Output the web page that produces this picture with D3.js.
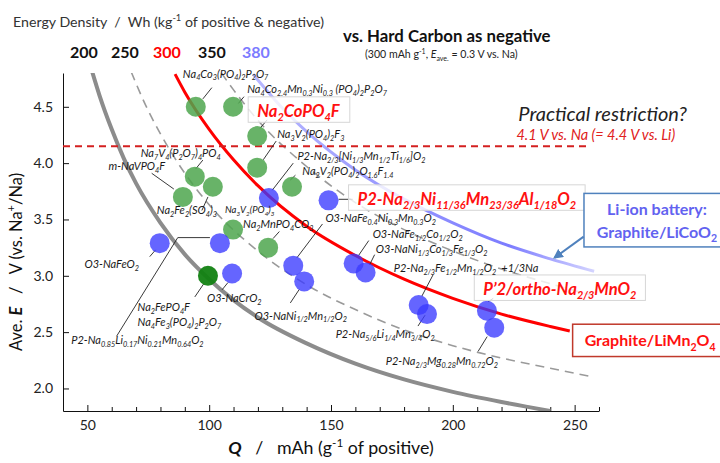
<!DOCTYPE html>
<meta charset="utf-8">
<title>Energy density map</title>
<script src="https://d3js.org/d3.v7.min.js"></script>
<body style="margin:0;background:#fff">
<div id="chart"></div>
</body>
<style>
  svg text { white-space: pre; }
</style>
<script>

    // iso energy lines (Wh/kg of positive & negative)
    var energyLevels = [200, 250, 300, 350, 380];
    var iso200Q = [52, 55, 60, 65, 70, 80, 90, 100, 120, 140, 160, 180, 200, 220, 240];
    var iso200V = [4.81, 4.60, 4.30, 4.04, 3.82, 3.47, 3.19, 2.97, 2.63, 2.40, 2.22, 2.08, 1.97, 1.88, 1.80];
    var iso250Q = [68, 74, 80, 90, 100, 120, 140, 160, 180, 200, 220, 240, 258];
    var iso250V = [4.81, 4.51, 4.26, 3.91, 3.63, 3.22, 2.92, 2.70, 2.52, 2.38, 2.27, 2.18, 2.10];
    var iso300Q = [86, 90, 100, 110, 120, 140, 160, 180, 200, 220, 240, 248];
    var iso300V = [4.79, 4.63, 4.30, 4.03, 3.80, 3.44, 3.18, 2.97, 2.80, 2.66, 2.55, 2.51];
    var iso350Q = [105, 110, 120, 140, 160, 180, 200, 220, 240, 258];
    var iso350V = [4.80, 4.65, 4.38, 3.97, 3.65, 3.41, 3.22, 3.06, 2.93, 2.82];
    var iso380Q = [118, 130, 140, 160, 180, 200, 220, 240, 258];
    var iso380V = [4.79, 4.49, 4.28, 3.94, 3.68, 3.47, 3.29, 3.15, 3.04];

    // polyanion positives (green)
    var greenQ = [94.5, 109.8, 119.7, 119.7, 94.1, 101.5, 89.2, 109.8, 124.2, 134.0];
    var greenV = [4.50, 4.50, 4.24, 3.96, 3.88, 3.79, 3.70, 3.41, 3.25, 3.79];
    // Na2FePO4F / Na4Fe3(PO4)2P2O7 (dark green)
    var darkQ = [99.5];
    var darkV = [3.00];
    // layered oxide positives (blue)
    var blueQ = [79.7, 104.4, 109.4, 124.5, 149.0, 134.5, 139.0, 159.3, 164.2, 186.0, 189.4, 214.0, 217.0];
    var blueV = [3.29, 3.29, 3.02, 3.69, 3.67, 3.09, 2.95, 3.11, 3.03, 2.74, 2.66, 2.69, 2.54];

    var practicalLimit = 4.15;
    var xTicks = [50, 100, 150, 200, 250];
    var yTicks = [2.0, 2.5, 3.0, 3.5, 4.0, 4.5];

    // material labels: text, anchor (Q, V), leader line points
    var notes = [
      {t: "Na_{4}Co_{3}(PO_{4})_{2}P_{2}O_{7}", q: 89.2, v: 4.76, lead: [[101.1, 4.67], [97.4, 4.57]]},
      {t: "Na_{4}Co_{2.4}Mn_{0.3}Ni_{0.3} (PO_{4})_{2}P_{2}O_{7}", q: 115.6, v: 4.625, lead: [[114.3, 4.59], [112.0, 4.53]]},
      {t: "Na_{3}V_{2}(PO_{4})_{2}F_{3}", q: 127.9, v: 4.223, lead: [[127.5, 4.196], [122.2, 4.03]]},
      {t: "P2-Na_{2/3}[Ni_{1/3}Mn_{1/2}Ti_{1/6}]O_{2}", q: 136.2, v: 4.03, lead: [[134.5, 4.0], [125.9, 3.76]]},
      {t: "Na_{2}V_{2}(PO_{4})_{2}O_{1.6}F_{1.4}", q: 138.2, v: 3.895, lead: [[135.4, 3.893], [133.3, 3.85]]},
      {t: "Na_{7}V_{4}(P_{2}O_{7})_{4}PO_{4}", q: 71.9, v: 4.054, lead: [[97.4, 4.027], [94.5, 3.95]]},
      {t: "m-NaVPO_{4}F", q: 58.7, v: 3.9375, lead: [[76.4, 3.91], [85.5, 3.77]]},
      {t: "Na_{2}Fe_{2}(SO_{4})_{3}", q: 78.5, v: 3.545, lead: [[97.0, 3.58], [99.5, 3.70]]},
      {t: "Na_{3}V_{2}(PO_{4})_{3}", q: 106.5, v: 3.554, size: 9.5},
      {t: "Na_{2}MnPO_{4}CO_{3}", q: 113.9, v: 3.42, lead: [[128.8, 3.393], [126.2, 3.33]]},
      {t: "O3-NaFeO_{2}", q: 48.8, v: 3.071, lead: [[75.6, 3.17], [78.0, 3.23]]},
      {t: "P2-Na_{0.85}Li_{0.17}Ni_{0.21}Mn_{0.64}O_{2}", q: 43.4, v: 2.393, lead: [[62.0, 2.464], [87.1, 3.339], [100.3, 3.339]]},
      {t: "Na_{2}FePO_{4}F", q: 70.6, v: 2.6875, lead: [[94.1, 2.8125], [97.8, 2.93]]},
      {t: "Na_{4}Fe_{3}(PO_{4})_{2}P_{2}O_{7}", q: 70.6, v: 2.554},
      {t: "O3-NaCrO_{2}", q: 99.1, v: 2.765, lead: [[105.3, 2.876], [107.7, 2.94]]},
      {t: "O3-NaNi_{1/2}Mn_{1/2}O_{2}", q: 118.6, v: 2.612, lead: [[133.3, 2.759], [137.0, 2.88]]},
      {t: "O3-NaFe_{0.4}Ni_{0.3}Mn_{0.3}O_{2}", q: 147.7, v: 3.475, lead: [[146.5, 3.46], [136.0, 3.16]]},
      {t: "O3-NaFe_{1/2}Co_{1/2}O_{2}", q: 167.1, v: 3.335, lead: [[165.5, 3.3125], [161.3, 3.18]]},
      {t: "O3-NaNi_{1/3}Co_{1/3}Fe_{1/3}O_{2}", q: 168.4, v: 3.2, lead: [[167.9, 3.1875], [165.9, 3.10]]},
      {t: "P2-Na_{2/3}Fe_{1/2}Mn_{1/2}O_{2}  +1/3Na", q: 175.8, v: 3.036, lead: [[191.9, 3.009], [187.3, 2.82]]},
      {t: "P2-Na_{5/6}Li_{1/4}Mn_{3/4}O_{2}", q: 151.9, v: 2.446, lead: [[185.7, 2.554], [188.6, 2.65]]},
      {t: "P2-Na_{2/3}Mg_{0.28}Mn_{0.72}O_{2}", q: 172.5, v: 2.205, lead: [[210.4, 2.33], [214.1, 2.46]]}
    ];
    var bigNotes = [
      {t: "Na_{2}CoPO_{4}F", q: 119.7, v: 4.411, lead: [[123.8, 4.384], [120.9, 4.31]]},
      {t: "P2-Na_{2/3}Ni_{11/36}Mn_{23/36}Al_{1/18}O_{2}", q: 160.9, v: 3.63, lead: [[153.1, 3.679], [158.9, 3.679]]},
      {t: "P\u20192/ortho-Na_{2/3}MnO_{2}", q: 212.5, v: 2.83, lead: [[214.5, 2.77], [216.6, 2.80]]}
    ];

    var margin = {top: 73, right: 121, bottom: 52, left: 63},
      width = 720 - margin.left - margin.right,
      height = 463 - margin.top - margin.bottom;

    var svg = d3.select("#chart")
      .append("svg")
        .attr("width", 720)
        .attr("height", 463)
        .style("font-family", "Lato, 'Open Sans', sans-serif");

    var g = svg.append("g")
        .attr("transform", "translate(" + margin.left + "," + margin.top + ")");

    var x = d3.scaleLinear().domain([40, 260]).range([0, width]);
    var y = d3.scaleLinear().domain([1.8, 4.8]).range([height, 0]);

    // writes text with _{sub}, ^{sup}, ~{italic}, #{bold italic}
    function rich(sel, str, size) {
      var parts = str.split(/([_^~#]\{[^}]*\})/).filter(function(s) { return s.length; });
      var shift = 0;
      parts.forEach(function(p) {
        var target = 0, txt = p, fs = size, style = null, weight = null;
        if (p[0] === "_" && p[1] === "{") { target = size * 0.27; txt = p.slice(2, -1); fs = size * 0.66; }
        else if (p[0] === "^" && p[1] === "{") { target = -size * 0.4; txt = p.slice(2, -1); fs = size * 0.66; }
        else if (p[0] === "~" && p[1] === "{") { txt = p.slice(2, -1); style = "italic"; }
        else if (p[0] === "#" && p[1] === "{") { txt = p.slice(2, -1); style = "italic"; weight = "bold"; }
        var ts = sel.append("tspan").attr("dy", (target - shift).toFixed(2)).attr("font-size", fs).text(txt);
        if (style) ts.attr("font-style", style);
        if (weight) ts.attr("font-weight", weight);
        shift = target;
      });
      return sel;
    }

    // rect behind a text element, padding: left/right, top, bottom
    function boxAround(textSel, padX, padTop, padBottom, stroke, sw, fill) {
      var node = textSel.node();
      var b = node.getBBox();
      var r = document.createElementNS("http://www.w3.org/2000/svg", "rect");
      node.parentNode.insertBefore(r, node);
      d3.select(r)
        .attr("x", b.x - padX).attr("y", b.y - padTop)
        .attr("width", b.width + 2 * padX).attr("height", b.height + padTop + padBottom)
        .attr("fill", fill).attr("stroke", stroke).attr("stroke-width", sw);
    }

    // axes
    g.append("g")
      .attr("transform", "translate(0," + height + ")")
      .call(d3.axisBottom(x).tickValues(xTicks).tickSize(-6).tickSizeOuter(0).tickPadding(9).tickFormat(d3.format("d")));
    g.append("g")
      .attr("transform", "translate(0," + height + ")")
      .call(d3.axisBottom(x).tickValues(d3.range(50, 261, 10).filter(function(d) { return d % 50; })).tickSize(-4).tickFormat(""))
      .call(function(a) { a.select(".domain").remove(); });
    g.append("g")
      .call(d3.axisLeft(y).tickValues(yTicks).tickSize(-6).tickSizeOuter(0).tickPadding(10).tickFormat(d3.format(".1f")));
    g.selectAll(".tick text").attr("font-size", 14).attr("font-family", "Lato, sans-serif").attr("fill", "#222");
    g.selectAll(".domain, .tick line").attr("stroke", "#111");

    // clip for the curves
    g.append("clipPath").attr("id", "plotclip")
      .append("rect").attr("width", width).attr("height", height);

    var line = d3.line()
      .x(function(d) { return x(d[0]); })
      .y(function(d) { return y(d[1]); })
      .curve(d3.curveMonotoneX);

    var defs = svg.append("defs");
    var grad = defs.append("linearGradient")
      .attr("id", "blueFade").attr("gradientUnits", "userSpaceOnUse")
      .attr("x1", x(118)).attr("x2", x(258)).attr("y1", 0).attr("y2", 0);
    grad.append("stop").attr("offset", "0").attr("stop-color", "#b8b8ff");
    grad.append("stop").attr("offset", "0.75").attr("stop-color", "#7c7cff");
    grad.append("stop").attr("offset", "1").attr("stop-color", "#d4d4ff");
    defs.append("marker")
      .attr("id", "arr").attr("viewBox", "0 0 10 10").attr("refX", 8).attr("refY", 5)
      .attr("markerWidth", 5).attr("markerHeight", 5).attr("orient", "auto")
      .append("path").attr("d", "M0,0L10,5L0,10z").attr("fill", "#4f81bd");

    var curves = g.append("g").attr("clip-path", "url(#plotclip)");
    function zip(a, b) { return a.map(function(d, i) { return [d, b[i]]; }); }

    curves.append("path").datum(zip(iso250Q, iso250V)).attr("d", line)
      .attr("fill", "none").attr("stroke", "#9a9a9a").attr("stroke-width", 1.6).attr("stroke-dasharray", "9,6");
    curves.append("path").datum(zip(iso350Q, iso350V)).attr("d", line)
      .attr("fill", "none").attr("stroke", "#9a9a9a").attr("stroke-width", 1.6).attr("stroke-dasharray", "9,6");
    curves.append("path").datum(zip(iso200Q, iso200V)).attr("d", line)
      .attr("fill", "none").attr("stroke", "#8c8c8c").attr("stroke-width", 4);
    curves.append("path").datum(zip(iso380Q, iso380V)).attr("d", line)
      .attr("fill", "none").attr("stroke", "url(#blueFade)").attr("stroke-width", 3);
    curves.append("path").datum(zip(iso300Q, iso300V)).attr("d", line)
      .attr("fill", "none").attr("stroke", "#ff0000").attr("stroke-width", 3);

    // practical voltage restriction
    g.append("line")
      .attr("x1", x(40)).attr("x2", x(255.8))
      .attr("y1", y(practicalLimit)).attr("y2", y(practicalLimit))
      .attr("stroke", "#d42020").attr("stroke-width", 2).attr("stroke-dasharray", "7,5");

    // leader lines
    var leadLine = d3.line().x(function(d) { return x(d[0]); }).y(function(d) { return y(d[1]); });
    notes.concat(bigNotes).filter(function(n) { return n.lead; }).forEach(function(n) {
      g.append("path").datum(n.lead).attr("d", leadLine)
        .attr("fill", "none").attr("stroke", "#222").attr("stroke-width", 0.9);
    });

    // points
    g.append("g").selectAll("circle").data(zip(greenQ, greenV)).join("circle")
      .attr("cx", function(d) { return x(d[0]); })
      .attr("cy", function(d) { return y(d[1]); })
      .attr("r", 10).attr("fill", "#4ea64e").attr("fill-opacity", 0.85);
    g.append("g").selectAll("circle").data(zip(darkQ, darkV)).join("circle")
      .attr("cx", function(d) { return x(d[0]); })
      .attr("cy", function(d) { return y(d[1]); })
      .attr("r", 10).attr("fill", "#128212").attr("fill-opacity", 0.95);
    g.append("g").selectAll("circle").data(zip(blueQ, blueV)).join("circle")
      .attr("cx", function(d) { return x(d[0]); })
      .attr("cy", function(d) { return y(d[1]); })
      .attr("r", 10).attr("fill", "#3a3aff").attr("fill-opacity", 0.78);

    // highlighted materials in boxes
    bigNotes.forEach(function(n) {
      var t = g.append("text")
        .attr("x", x(n.q)).attr("y", y(n.v))
        .attr("font-style", "italic").attr("font-weight", "bold").attr("fill", "#ff1010");
      rich(t, n.t, 16.6);
      boxAround(t, 9, 4, -1, "#d6d6d6", 1, "rgba(255,255,255,0.8)");
    });

    // material labels
    notes.forEach(function(n) {
      var t = g.append("text")
        .attr("x", x(n.q)).attr("y", y(n.v))
        .attr("font-style", "italic").attr("fill", "#1a1a1a");
      rich(t, n.t, n.size || 11);
    });

    // practical restriction note
    g.append("text").attr("x", x(226.9)).attr("y", y(4.375))
      .attr("font-size", 20).attr("font-style", "italic").attr("fill", "#222")
      .text("Practical restriction?");
    g.append("text").attr("x", x(226.1)).attr("y", y(4.205))
      .attr("font-size", 14.5).attr("font-style", "italic").attr("fill", "#e02020")
      .text("4.1 V vs. Na (= 4.4 V vs. Li)");

    // Graphite/LiMn2O4 reference
    var lmo = g.append("text").attr("x", x(254.1)).attr("y", y(2.375))
      .attr("font-weight", "bold").attr("fill", "#ff1010");
    rich(lmo, "Graphite/LiMn_{2}O_{4}", 16);
    boxAround(lmo, 12, 6, 4, "#c0392b", 1.5, "#fff");

    // Graphite/LiCoO2 reference
    var lco = g.append("g");
    var lcoRect = lco.append("rect");
    var l1 = lco.append("text").attr("x", x(283.8)).attr("y", y(3.536))
      .attr("text-anchor", "middle").attr("font-weight", "bold").attr("fill", "#6262f0");
    rich(l1, "Li-ion battery:", 16);
    var l2 = lco.append("text").attr("x", x(283.8)).attr("y", y(3.339))
      .attr("text-anchor", "middle").attr("font-weight", "bold").attr("fill", "#6262f0");
    rich(l2, "Graphite/LiCoO_{2}", 16);
    var b1 = l1.node().getBBox(), b2 = l2.node().getBBox();
    lcoRect
      .attr("x", x(283.8) - 73).attr("y", b1.y - 6)
      .attr("width", 146).attr("height", b2.y + b2.height - b1.y + 9)
      .attr("fill", "#fff").attr("stroke", "#4f81bd").attr("stroke-width", 1.5);
    g.append("line")
      .attr("x1", x(253.7)).attr("y1", y(3.348)).attr("x2", x(241.8)).attr("y2", y(3.161))
      .attr("stroke", "#4f81bd").attr("stroke-width", 2).attr("marker-end", "url(#arr)");

    // header
    rich(svg.append("text").attr("x", 13).attr("y", 27).attr("fill", "#333"),
      "Energy Density  /  Wh (kg^{-1} of positive & negative)", 14.2);
    var headerX = [70, 111, 153, 198, 242];
    var headerColor = ["#111", "#111", "#ff0000", "#111", "#7b7bff"];
    svg.selectAll(".elev").data(energyLevels).join("text")
      .attr("x", function(d, i) { return headerX[i]; }).attr("y", 58)
      .attr("font-size", 16).attr("font-weight", "bold")
      .attr("fill", function(d, i) { return headerColor[i]; })
      .text(function(d) { return d; });
    svg.append("text").attr("x", 343).attr("y", 42)
      .attr("font-size", 16.8).attr("font-weight", "bold").attr("fill", "#111")
      .text("vs. Hard Carbon as negative");
    rich(svg.append("text").attr("x", 365).attr("y", 58).attr("fill", "#222"),
      "(300 mAh g^{-1}, ~{E}_{ave.} = 0.3 V vs. Na)", 10.6);

    // axis titles
    rich(svg.append("text").attr("x", 331).attr("y", 454).attr("text-anchor", "middle").attr("fill", "#111"),
      "#{Q}   /   mAh (g^{-1} of positive)", 17.8);
    rich(svg.append("text").attr("transform", "translate(22,262) rotate(-90)").attr("text-anchor", "middle").attr("fill", "#111"),
      "Ave. #{E}   /   V (vs. Na^{+}/Na)", 16.5);

</script>
